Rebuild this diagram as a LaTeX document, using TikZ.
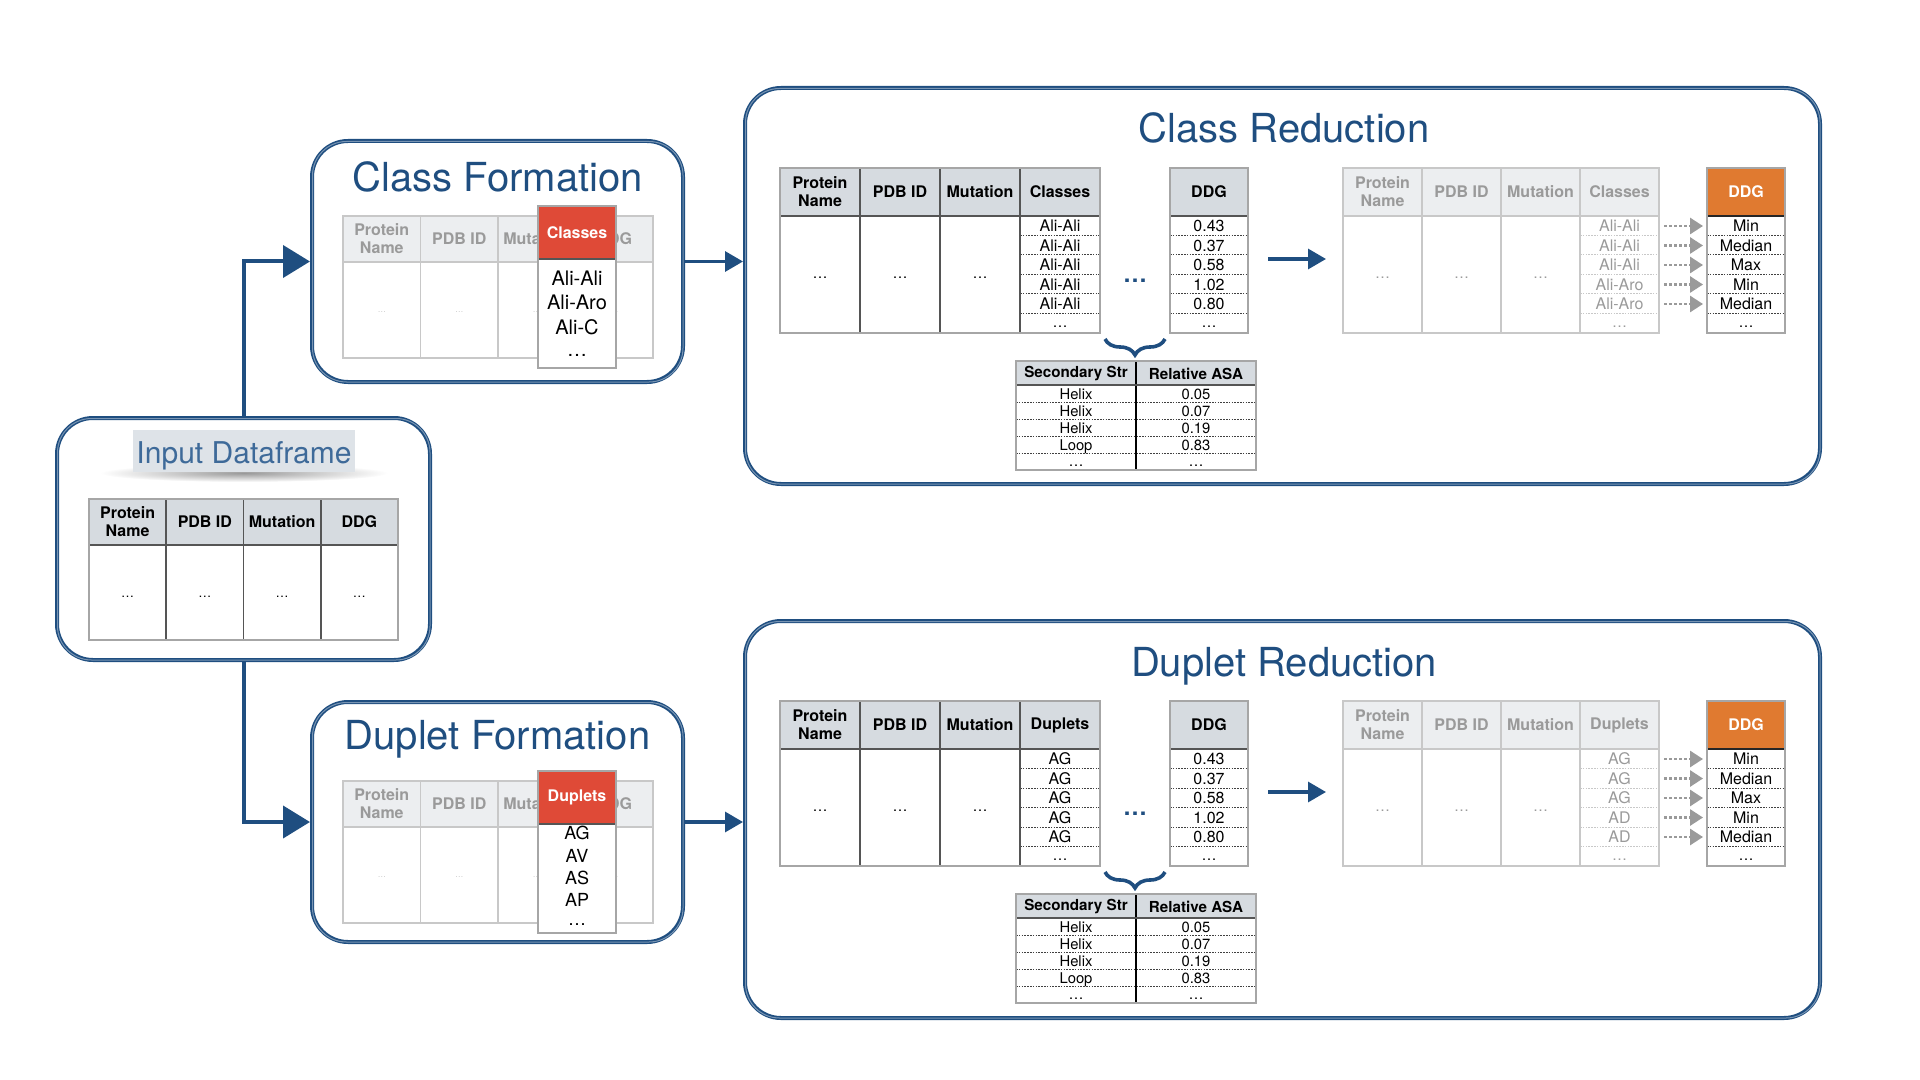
\documentclass[tikz,border=0pt]{standalone}
\usepackage{fontspec}
\setmainfont{TeX Gyre Heros}
\usetikzlibrary{arrows.meta,decorations.pathreplacing,fit,calc}
\definecolor{dblue}{HTML}{1F4E80}
\definecolor{lblue}{HTML}{3E6A99}
\definecolor{ibg}{HTML}{DEE3E8}
\definecolor{hdr}{HTML}{D6DBE0}
\definecolor{fhdr}{HTML}{ECEEF0}
\definecolor{fgray}{HTML}{9A9A9A}
\definecolor{fline}{HTML}{C8C8C8}
\definecolor{tline}{HTML}{A6A6A6}
\definecolor{iline}{HTML}{555555}
\definecolor{redc}{HTML}{DF4A37}
\definecolor{orangec}{HTML}{E07A30}
\tikzset{
  skb/.style={draw=dblue, line width=2pt, rounded corners=18pt, inner sep=0pt},
  skbthin/.style={draw=dblue!60, line width=0.5pt, rounded corners=17pt},
  ttl/.style={text=dblue, font=\fontsize{20pt}{24pt}\selectfont, inner sep=0pt, anchor=base},
  hd/.style={font=\bfseries\fontsize{8pt}{9pt}\selectfont, align=center, inner sep=0pt, text=black},
  fhd/.style={hd, text=fgray},
  cell/.style={font=\fontsize{8pt}{9pt}\selectfont, inner sep=0pt, text=black, text height=5.9pt, text depth=1.7pt},
  fcell/.style={cell, text=fgray},
  scell/.style={font=\fontsize{7.4pt}{8pt}\selectfont, inner sep=0pt, text=black, text height=5.4pt, text depth=1.5pt},
  el/.style={font=\fontsize{7.5pt}{8pt}\selectfont, inner sep=0pt, text=black},
  fel/.style={el, text=fgray},
  tinyel/.style={font=\fontsize{4pt}{4pt}\selectfont, inner sep=0pt, text=fgray!60},
  item/.style={font=\fontsize{10pt}{12pt}\selectfont, inner sep=0pt, text=black, text height=7.3pt, text depth=2pt},
  ditem/.style={font=\fontsize{9pt}{11pt}\selectfont, inner sep=0pt, text=black, text height=6.6pt, text depth=1.8pt},
  dsep/.style={draw=black!75, line width=0.5pt, dash pattern=on 0.8pt off 0.6pt},
  fdsep/.style={draw=fline, line width=0.5pt, dash pattern=on 0.8pt off 0.6pt},
  conn/.style={draw=dblue, line width=2pt, -{Triangle[length=13.5pt,width=16pt]}},
  connb/.style={draw=dblue, line width=1.6pt, -{Triangle[length=9pt,width=10pt]}},
  dotarr/.style={draw=fgray, line width=1.4pt, dash pattern=on 1.4pt off 1.1pt, -{Triangle[length=6.5pt,width=8pt]}},
}
\newcommand\skbox[5]{%
  \node[skb, fit={(#2,#3) (#4,#5)}] (#1) {};
  \draw[skbthin] ($(#1.north west)+(2.5,2.5)$) rectangle ($(#1.south east)+(-2,-2)$);
}
\newcommand\formsec[4]{%
  \node[ttl] (#1-title) at (497.5,#4) {#2};
  \fill[fhdr] (343,216) rectangle (653,262);
  \foreach \xx in {420.5,498,575.5} \draw[fline, line width=0.8pt] (\xx,216) -- (\xx,358);
  \draw[fline, line width=0.8pt] (343,262) -- (653,262);
  \draw[fline, line width=0.8pt] (343,216) rectangle (653,358);
  \foreach \tx [count=\i] in {Protein\\Name,PDB ID,Mutation,DDG}
    \node[fhd] (#1-h\i) at ({343+77.5*(\i-0.5)},239) {\tx};
  \foreach \i in {1,2,3,4} \node[tinyel] (#1-b\i) at ({343+77.5*(\i-0.5)},312) {…};
  \fill[white] (538,259) rectangle (616,368);
  \fill[redc] (538,206) rectangle (616,259);
  \draw[iline, line width=1pt] (538,259) -- (616,259);
  \draw[tline, line width=0.8pt] (538,206) rectangle (616,368);
  \node[hd, text=white] (#1-rh) at (577,232.5) {#3};
}
\newcommand\redsec[5]{%
  \node[ttl] (#1-title) at (1284,143) {#2};
  % left table
  \fill[hdr] (780,168) rectangle (1100,216);
  \foreach \yy in {235.5,255,274.5,294,313.5} \draw[dsep] (1020,\yy) -- (1100,\yy);
  \foreach \xx in {860,940,1020} \draw[iline, line width=0.8pt] (\xx,168) -- (\xx,333);
  \draw[iline, line width=1pt] (780,216) -- (1100,216);
  \draw[tline, line width=0.8pt] (780,168) rectangle (1100,333);
  \foreach \tx [count=\i] in {Protein\\Name,PDB ID,Mutation,#3}
    \node[hd] (#1-lh\i) at ({780+80*(\i-0.5)},192) {\tx};
  \foreach \i in {1,2,3} \node[el] (#1-lb\i) at ({780+80*(\i-0.5)},278) {…};
  \foreach \tx [count=\i] in {#4} \node[cell] (#1-lc\i) at (1060,{227.5+19.5*(\i-1)}) {\tx};
  \node[el] (#1-lc6) at (1060,327) {…};
  % DDG table
  \fill[hdr] (1170,168) rectangle (1248,216);
  \foreach \yy in {235.5,255,274.5,294,313.5} \draw[dsep] (1170,\yy) -- (1248,\yy);
  \draw[iline, line width=1pt] (1170,216) -- (1248,216);
  \draw[tline, line width=0.8pt] (1170,168) rectangle (1248,333);
  \node[hd] (#1-dh) at (1209,192) {DDG};
  \foreach \tx [count=\i] in {0.43,0.37,0.58,1.02,0.80} \node[cell] (#1-d\i) at (1209,{227.5+19.5*(\i-1)}) {\tx};
  \node[el] (#1-d6) at (1209,327) {…};
  \node[text=dblue, font=\bfseries\fontsize{12pt}{12pt}\selectfont, inner sep=0pt] (#1-gap) at (1135,281) {…};
  % brace
  \draw[dblue, line width=1.8pt, decorate, decoration={brace, amplitude=8pt}] (1165,339) -- (1105,339);
  % sub table
  \fill[hdr] (1016,361) rectangle (1256,385);
  \foreach \yy in {402,419,436,453} \draw[dsep] (1016,\yy) -- (1256,\yy);
  \draw[black, line width=0.7pt] (1136,361) -- (1136,470);
  \draw[iline, line width=1pt] (1016,385) -- (1256,385);
  \draw[tline, line width=0.8pt] (1016,361) rectangle (1256,470);
  \node[hd, font=\bfseries\fontsize{7.6pt}{8pt}\selectfont] (#1-sh1) at (1076,374) {Secondary Str};
  \node[hd, font=\bfseries\fontsize{7.6pt}{8pt}\selectfont] (#1-sh2) at (1196,374) {Relative ASA};
  \foreach \sa/\sb [count=\i] in {Helix/0.05,Helix/0.07,Helix/0.19,Loop/0.83} {
    \node[scell] (#1-sa\i) at (1076,{395.5+17*(\i-1)}) {\sa};
    \node[scell] (#1-sb\i) at (1196,{395.5+17*(\i-1)}) {\sb};
  }
  \node[el] (#1-sa5) at (1076,466) {…};
  \node[el] (#1-sb5) at (1196,466) {…};
  % middle arrow
  \coordinate (#1-m1) at (1268,259);
  \coordinate (#1-m2) at (1326,259);
  \draw[connb] (#1-m1) -- (#1-m2);
  % right faded table
  \fill[fhdr] (1343,168) rectangle (1659,216);
  \foreach \yy in {235.5,255,274.5,294,313.5} \draw[fdsep] (1580,\yy) -- (1659,\yy);
  \foreach \xx in {1422,1501,1580} \draw[fline, line width=0.8pt] (\xx,168) -- (\xx,333);
  \draw[fline, line width=0.8pt] (1343,216) -- (1659,216);
  \draw[fline, line width=0.8pt] (1343,168) rectangle (1659,333);
  \foreach \tx [count=\i] in {Protein\\Name,PDB ID,Mutation,#3}
    \node[fhd] (#1-rh\i) at ({1343+79*(\i-0.5)},192) {\tx};
  \foreach \i in {1,2,3} \node[fel] (#1-rb\i) at ({1343+79*(\i-0.5)},278) {…};
  \foreach \tx [count=\i] in {#5} \node[fcell] (#1-rc\i) at (1619.5,{227.5+19.5*(\i-1)}) {\tx};
  \node[fel] (#1-rc6) at (1619.5,327) {…};
  % orange DDG
  \fill[orangec] (1707,168) rectangle (1785,216);
  \foreach \yy in {235.5,255,274.5,294,313.5} \draw[dsep] (1707,\yy) -- (1785,\yy);
  \draw[black!85, line width=1pt] (1707,216) -- (1785,216);
  \draw[tline, line width=0.8pt] (1707,168) rectangle (1785,333);
  \node[hd, text=white] (#1-oh) at (1746,192) {DDG};
  \foreach \tx [count=\i] in {Min,Median,Max,Min,Median} {
    \node[cell] (#1-o\i) at (1746,{227.5+19.5*(\i-1)}) {\tx};
    \coordinate (#1-pa\i) at (1664,{226+19.5*(\i-1)});
    \coordinate (#1-pb\i) at (1703,{226+19.5*(\i-1)});
    \draw[dotarr] (#1-pa\i) -- (#1-pb\i);
  }
  \node[el] (#1-o6) at (1746,327) {…};
}
\begin{document}
\begin{tikzpicture}[x=0.5pt,y=-0.5pt]
\useasboundingbox (0,0) rectangle (1920,1080);
% boxes
\skbox{inp}{57}{418}{430}{660}
\skbox{cf}{312}{141}{683}{382}
\skbox{df}{312}{702}{683}{942}
\skbox{cr}{745}{88}{1820}{484}
\skbox{dr}{745}{621}{1820}{1018}
% input dataframe
\shade[inner color=black!40, outer color=white] (244,473) ellipse [x radius=72pt, y radius=4.5pt];
\fill[ibg] (133,430) rectangle (355,472);
\node[text=lblue, font=\fontsize{15pt}{18pt}\selectfont, inner sep=0pt, anchor=base] (inp-title) at (244,463) {Input Dataframe};
\fill[hdr] (89,499) rectangle (398,545);
\foreach \xx in {166.25,243.5,320.75} \draw[iline, line width=0.8pt] (\xx,499) -- (\xx,640);
\draw[iline, line width=1pt] (89,545) -- (398,545);
\draw[tline, line width=0.8pt] (89,499) rectangle (398,640);
\foreach \tx [count=\i] in {Protein\\Name,PDB ID,Mutation,DDG}
  \node[hd] (inp-h\i) at ({89+77.25*(\i-0.5)},522) {\tx};
\foreach \i in {1,2,3,4}
  \node[el, font=\fontsize{6.5pt}{7pt}\selectfont] (inp-b\i) at ({89+77.25*(\i-0.5)},597) {…};
% class formation
\formsec{cfm}{Class Formation}{Classes}{192}
\foreach \tx [count=\i] in {Ali-Ali,Ali-Aro,Ali-C}
  \node[item] (cfm-r\i) at (577,{280+24.5*(\i-1)}) {\tx};
\node[el, font=\fontsize{10pt}{12pt}\selectfont] (cfm-r4) at (577,355) {…};
% duplet formation
\begin{scope}[shift={(0,565)}]
\formsec{dfm}{Duplet Formation}{Duplets}{184}
\foreach \tx [count=\i] in {AG,AV,AS,AP}
  \node[ditem] (dfm-r\i) at (577,{270+22.3*(\i-1)}) {\tx};
\node[el, font=\fontsize{9pt}{11pt}\selectfont] (dfm-r5) at (577,360) {…};
\end{scope}
% reductions
\redsec{crd}{Class Reduction}{Classes}{Ali-Ali,Ali-Ali,Ali-Ali,Ali-Ali,Ali-Ali}{Ali-Ali,Ali-Ali,Ali-Ali,Ali-Aro,Ali-Aro}
\begin{scope}[shift={(0,533)}]
\redsec{drd}{Duplet Reduction}{Duplets}{AG,AG,AG,AG,AG}{AG,AG,AG,AD,AD}
\end{scope}
% connectors
\draw[conn] (inp.north) |- (cf.west);
\draw[conn] (inp.south) |- (df.west);
\draw[connb] (cf.east) -- (cf.east -| cr.west);
\draw[connb] (df.east) -- (df.east -| dr.west);
\end{tikzpicture}
\end{document}
